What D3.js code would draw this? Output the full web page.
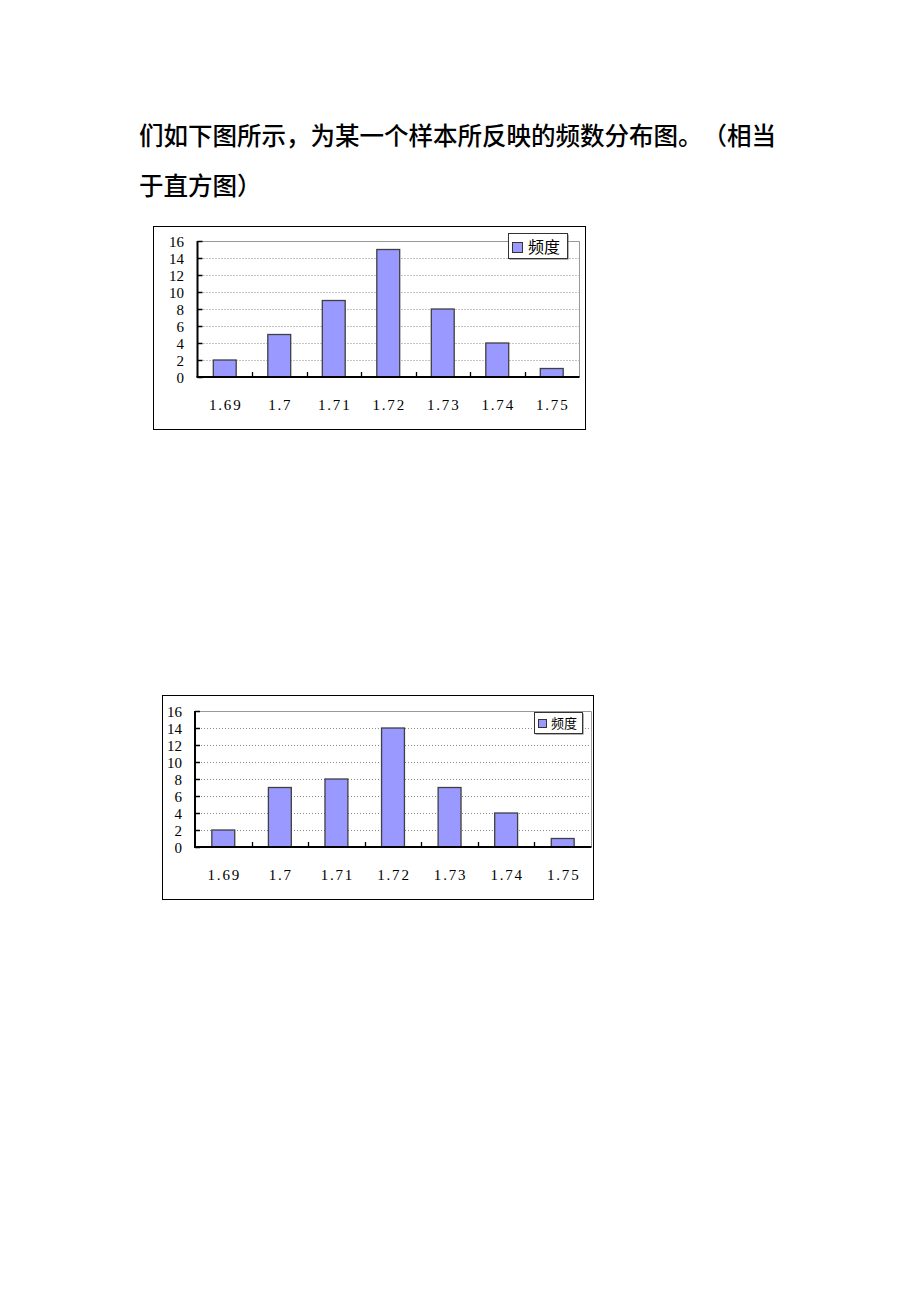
<!DOCTYPE html>
<html>
<head>
<meta charset="utf-8">
<script src="https://cdn.jsdelivr.net/npm/d3@7"></script>
<style>
  html, body { margin: 0; padding: 0; background: #fff; }
  svg { display: block; }
  text { text-spacing-trim: space-all; }
</style>
</head>
<body>
<svg id="page" width="920" height="1302"></svg>
<script>
// ---- data ----
const categories = ["1.69", "1.7", "1.71", "1.72", "1.73", "1.74", "1.75"];
const chart1Values = [2, 5, 9, 15, 8, 4, 1];
const chart2Values = [2, 7, 8, 14, 7, 4, 1];
const yTicks = [0, 2, 4, 6, 8, 10, 12, 14, 16];
const seriesName = "频度";
const headingLines = ["们如下图所示，为某一个样本所反映的频数分布图。（相当", "于直方图）"];

const svg = d3.select("#page");

// heading
svg.selectAll("text.heading")
  .data(headingLines)
  .enter().append("text")
  .attr("class", "heading")
  .attr("x", 139)
  .attr("y", (d, i) => 145 + i * 50)
  .attr("font-family", "'Noto Sans CJK SC', sans-serif")
  .attr("font-size", 24.5)
  .attr("font-weight", 500)
  .attr("fill", "#000")
  .text(d => d);

function drawChart(cfg, values) {
  const g = svg.append("g");
  // outer frame
  g.append("rect")
    .attr("x", cfg.frame[0] + 0.5).attr("y", cfg.frame[1] + 0.5)
    .attr("width", cfg.frame[2] - cfg.frame[0]).attr("height", cfg.frame[3] - cfg.frame[1])
    .attr("fill", "#fff").attr("stroke", "#000").attr("stroke-width", 1);

  const slot = d3.scaleBand().domain(categories).range([cfg.x0, cfg.x1]).padding(0);
  const y = d3.scaleLinear().domain([0, 16]).range([cfg.y0, cfg.y1]);
  const barW = slot.bandwidth() * cfg.barFrac;

  // gridlines (dotted)
  g.selectAll("line.grid")
    .data(yTicks.filter(t => t > 0 && t < 16))
    .enter().append("line")
    .attr("x1", cfg.x0).attr("x2", cfg.x1)
    .attr("y1", d => Math.round(y(d)) + 0.5).attr("y2", d => Math.round(y(d)) + 0.5)
    .attr("stroke", "#8a8a8a").attr("stroke-width", 1)
    .attr("stroke-dasharray", "1,2");

  // plot area top and right border
  g.append("path")
    .attr("d", `M${cfg.x0},${Math.round(y(16)) + 0.5}H${cfg.x1 + 0.5}V${cfg.y0}`)
    .attr("fill", "none").attr("stroke", "#999").attr("stroke-width", 1);

  // bars
  g.selectAll("rect.bar")
    .data(values)
    .enter().append("rect")
    .attr("class", "bar")
    .attr("x", (d, i) => slot(categories[i]) + (slot.bandwidth() - barW) / 2)
    .attr("y", d => y(d))
    .attr("width", barW)
    .attr("height", d => y(0) - y(d))
    .attr("fill", "#9999ff")
    .attr("stroke", "#404040")
    .attr("stroke-width", 1.3);

  // y axis (ticks inside)
  const yAxis = d3.axisRight(y).tickValues(yTicks).tickSize(5).tickFormat("");
  const ya = g.append("g").attr("transform", `translate(${cfg.x0},0)`).call(yAxis);
  ya.select(".domain").attr("stroke", "#000").attr("stroke-width", 2).attr("d", `M0,${y(16)}V${y(0)}`);
  ya.selectAll(".tick line").attr("stroke", "#000").attr("stroke-width", 1.5);

  // y labels
  g.selectAll("text.ylab")
    .data(yTicks)
    .enter().append("text")
    .attr("x", cfg.ylabX)
    .attr("y", d => y(d) + cfg.ylabDy)
    .attr("text-anchor", "end")
    .attr("font-family", "'Liberation Serif', serif")
    .attr("font-size", cfg.yFont)
    .attr("fill", "#000")
    .text(d => d);

  // x axis line
  g.append("line")
    .attr("x1", cfg.x0 - 1).attr("x2", cfg.x1 + 0.5)
    .attr("y1", y(0)).attr("y2", y(0))
    .attr("stroke", "#000").attr("stroke-width", 2);

  // category boundary ticks (inside, pointing up)
  const bounds = categories.slice(1).map(c => slot(c));
  g.selectAll("line.xtick")
    .data(bounds)
    .enter().append("line")
    .attr("x1", d => Math.round(d) + 0.5).attr("x2", d => Math.round(d) + 0.5)
    .attr("y1", y(0)).attr("y2", y(0) - 5)
    .attr("stroke", "#000").attr("stroke-width", 1.3);

  // x labels
  g.selectAll("text.xlab")
    .data(categories)
    .enter().append("text")
    .attr("x", d => slot(d) + slot.bandwidth() / 2 + 1)
    .attr("y", cfg.xlabY)
    .attr("text-anchor", "middle")
    .attr("font-family", "'Liberation Serif', serif")
    .attr("font-size", 15)
    .attr("letter-spacing", 1.8)
    .attr("fill", "#000")
    .text(d => d);

  // legend
  const L = cfg.legend;
  g.append("rect")
    .attr("x", L.x + 1.5).attr("y", L.y + 1.5).attr("width", L.w).attr("height", L.h)
    .attr("fill", "#666");
  g.append("rect")
    .attr("x", L.x + 0.5).attr("y", L.y + 0.5).attr("width", L.w).attr("height", L.h)
    .attr("fill", "#fff").attr("stroke", "#333").attr("stroke-width", 1);
  g.append("rect")
    .attr("x", L.sx + 0.5).attr("y", L.sy + 0.5).attr("width", L.ss).attr("height", L.ss)
    .attr("fill", "#9999ff").attr("stroke", "#333").attr("stroke-width", 1);
  g.append("text")
    .attr("x", L.tx).attr("y", L.ty)
    .attr("font-family", "'Noto Sans CJK SC', sans-serif")
    .attr("font-size", L.font)
    .attr("fill", "#000")
    .text(seriesName);
}

drawChart({
  frame: [153, 226, 585, 429],
  x0: 197.5, x1: 579, y0: 377, y1: 241,
  barFrac: 0.42,
  ylabX: 184, ylabDy: 6, yFont: 15,
  xlabY: 410,
  legend: { x: 508, y: 233, w: 59, h: 25, sx: 512, sy: 242, ss: 10, tx: 528, ty: 253, font: 16 }
}, chart1Values);

drawChart({
  frame: [162, 695, 593, 899],
  x0: 195, x1: 591, y0: 847, y1: 711,
  barFrac: 0.405,
  ylabX: 182, ylabDy: 6, yFont: 15,
  xlabY: 880,
  legend: { x: 534, y: 712, w: 48, h: 21, sx: 538, sy: 719, ss: 8, tx: 551, ty: 728, font: 13 }
}, chart2Values);
</script>
</body>
</html>
